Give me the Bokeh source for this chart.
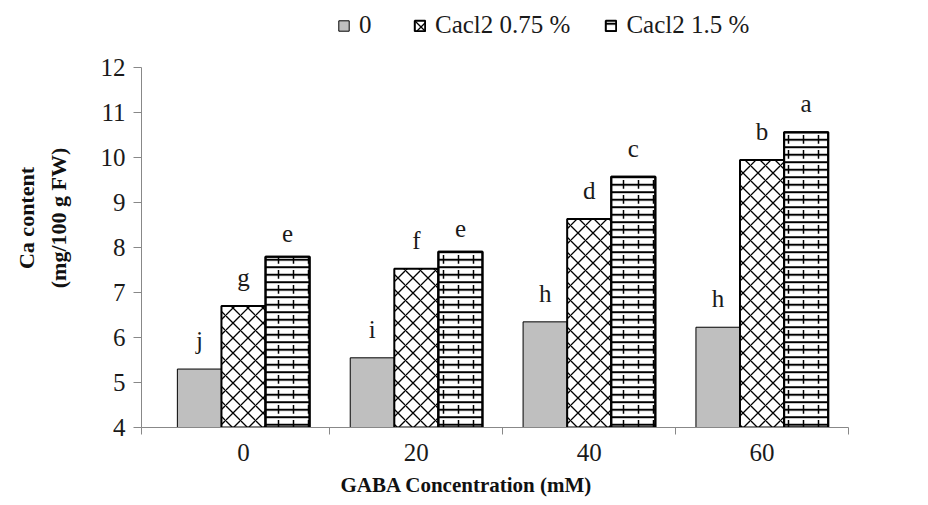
from bokeh.plotting import figure
from bokeh.models import ColumnDataSource, FixedTicker, Legend, LegendItem, Title
from bokeh.core.properties import value
from bokeh.embed import file_html
from bokeh.resources import INLINE

categories = ["0", "20", "40", "60"]
series_names = ["0", "Cacl2 0.75 %", "Cacl2 1.5 %"]
control = [5.3, 5.55, 6.35, 6.23]
cacl_075 = [6.7, 7.53, 8.64, 9.95]
cacl_150 = [7.8, 7.91, 9.58, 10.57]
letters_control = ["j", "i", "h", "h"]
letters_075 = ["g", "f", "d", "b"]
letters_150 = ["e", "e", "c", "a"]
y_ticks = [4, 5, 6, 7, 8, 9, 10, 11, 12]
y_title_lines = ["Ca content", "(mg/100 g FW)"]
x_title = "GABA Concentration (mM)"

FONT = "Liberation Serif"
X_START = -0.09
Y_TOP = 13.32  # extra room above 12 for the legend

p = figure(width=912, height=497, x_range=(X_START, len(categories)), y_range=(4, Y_TOP),
           output_backend="svg", toolbar_location=None, title=None,
           min_border_left=141, min_border_right=64, min_border_top=8, min_border_bottom=65)
p.outline_line_color = None
p.xgrid.visible = False
p.ygrid.visible = False
p.background_fill_color = "white"

centers = [i + 0.5 for i in range(len(categories))]
bw = 0.255
offsets = [-bw, 0.0, bw]

def src(vals, letters, off):
    return ColumnDataSource(dict(x=[c + off for c in centers], top=vals, lab=letters))

s0 = src(control, letters_control, offsets[0])
s1 = src(cacl_075, letters_075, offsets[1])
s2 = src(cacl_150, letters_150, offsets[2])

r0 = p.vbar(x="x", top="top", bottom=4, width=bw, source=s0,
            fill_color="#bfbfbf", line_color="#000000", line_width=1)
r1 = p.vbar(x="x", top="top", bottom=4, width=bw, source=s1,
            fill_color="white", line_color="black", line_width=2,
            hatch_pattern="diagonal_cross", hatch_color="black", hatch_weight=1.3, hatch_scale=15)
r2 = p.vbar(x="x", top="top", bottom=4, width=bw, source=s2,
            fill_color="white", line_color="black", line_width=2,
            hatch_pattern="horizontal_line", hatch_color="black", hatch_weight=2, hatch_scale=7.5)
p.vbar(x="x", top="top", bottom=4, width=bw, source=s2,
       fill_color="white", fill_alpha=0, line_color="black", line_width=2,
       hatch_pattern="vertical_dash", hatch_color="black", hatch_weight=1.5, hatch_scale=15)

for s in (s0, s1, s2):
    p.text(x="x", y="top", text="lab", source=s, text_align="center", text_baseline="bottom",
           y_offset=-15, text_font=value(FONT), text_font_size="25px", text_color="#1a1a1a")

# axes
p.xaxis.ticker = FixedTicker(ticks=centers, minor_ticks=[X_START] + [float(i) for i in range(1, len(categories) + 1)])
p.xaxis.major_label_overrides = {c: lab for c, lab in zip(centers, categories)}
p.xaxis.major_tick_line_color = None
p.xaxis.major_tick_out = 7
p.xaxis.minor_tick_line_color = "#888888"
p.xaxis.minor_tick_out = 7
p.xaxis.minor_tick_in = 0
p.xaxis.axis_line_color = "#888888"
p.xaxis.major_label_text_font = FONT
p.xaxis.major_label_text_font_size = "25px"
p.xaxis.major_label_text_color = "#1a1a1a"
p.xaxis.major_label_standoff = 9

p.yaxis.ticker = FixedTicker(ticks=y_ticks)
p.yaxis.bounds = (4, 12)
p.yaxis.minor_tick_line_color = None
p.yaxis.major_tick_line_color = "#888888"
p.yaxis.major_tick_out = 8
p.yaxis.major_tick_in = 0
p.yaxis.axis_line_color = "#888888"
p.yaxis.major_label_text_font = FONT
p.yaxis.major_label_text_font_size = "25px"
p.yaxis.major_label_text_color = "#1a1a1a"
p.yaxis.major_label_standoff = 8

# x-axis title (placed left of centre, as in the reference)
p.add_layout(Title(text=" ", text_font_size="1px", standoff=3), "below")
p.add_layout(Title(text=x_title, align="left", offset=199, text_font=FONT, text_font_size="21px",
                   text_font_style="bold", text_color="#111111", standoff=2), "below")

# y-axis title in two lines
p.add_layout(Title(text=" ", text_font_size="1px", standoff=20), "left")
p.add_layout(Title(text=y_title_lines[1], align="center", text_font=FONT, text_font_size="22px",
                   text_font_style="bold", text_color="#111111", standoff=8), "left")
p.add_layout(Title(text=y_title_lines[0], align="center", text_font=FONT, text_font_size="22px",
                   text_font_style="bold", text_color="#111111", standoff=2), "left")

legend = Legend(items=[LegendItem(label=series_names[0], renderers=[r0]),
                       LegendItem(label=series_names[1], renderers=[r1]),
                       LegendItem(label=series_names[2], renderers=[r2])],
                orientation="horizontal", location=(196, 388),
                label_text_font=FONT, label_text_font_size="25px", label_text_color="#1a1a1a",
                glyph_width=13, glyph_height=13, spacing=34, label_standoff=9,
                border_line_color=None, background_fill_alpha=0, padding=3, margin=0)
p.add_layout(legend, "center")

open("out.html", "w").write(file_html(p, INLINE))
